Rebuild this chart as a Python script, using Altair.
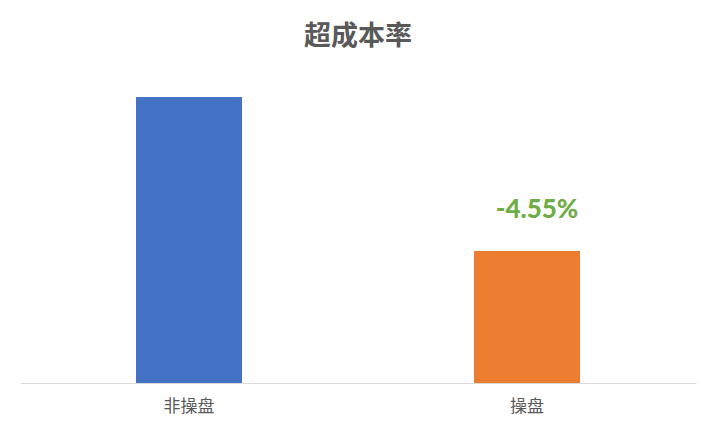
import altair as alt
import pandas as pd

categories = ["非操盘", "操盘"]
values = [9.86, 4.55]
colors = ["#4472C4", "#ED7D31"]
labels = ["", "-4.55%"]
title_text = "超成本率"

df = pd.DataFrame({"cat": categories, "val": values, "color": colors, "label": labels})

W, H = 676, 319
x_enc = alt.X("cat:N", sort=categories,
              scale=alt.Scale(paddingInner=0, paddingOuter=0),
              axis=alt.Axis(title=None, labelAngle=0, ticks=False, labelFontSize=17,
                            labelColor="#595959", labelFont="Noto Sans CJK SC",
                            labelPadding=15, domainColor="#D9D9D9", domainWidth=1.2,
                            grid=False))
y_enc = alt.Y("val:Q", scale=alt.Scale(domain=[0, 11], nice=False), axis=None)

bars = alt.Chart(df).mark_bar(size=106).encode(
    x=x_enc, y=y_enc, color=alt.Color("color:N", scale=None)
)

label = alt.Chart(df).mark_text(
    font="Lato", fontSize=26, fontWeight=900, color="#70AD47",
    baseline="middle", dy=-41, dx=10
).encode(x=alt.X("cat:N", sort=categories), y="val:Q", text="label:N")

title = alt.Chart(pd.DataFrame({"t": [title_text]})).mark_text(
    font="Noto Sans CJK SC", fontSize=27, fontWeight="bold", color="#595959",
    baseline="middle", align="center"
).encode(x=alt.value(W / 2), y=alt.value(-27), text="t:N")

chart = alt.layer(bars, label, title).properties(
    width=W, height=H,
    background="white",
    autosize=alt.AutoSizeParams(type="none"),
    padding={"left": 12, "top": 56, "right": 10, "bottom": 40},
).configure_view(strokeWidth=0, stroke="transparent")

chart.save("out.html", embed_options={"renderer": "svg", "actions": False})
